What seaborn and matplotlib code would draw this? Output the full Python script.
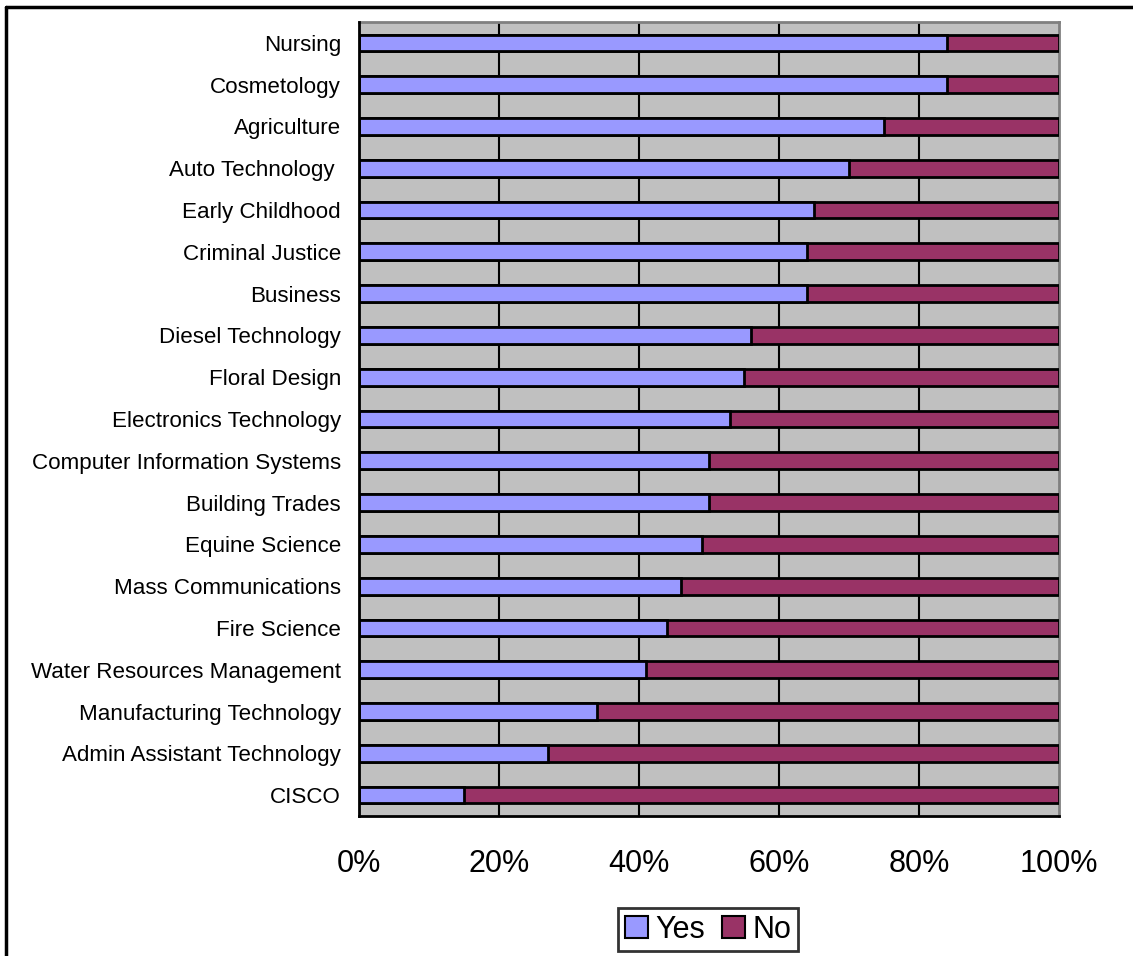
import seaborn as sns
import matplotlib.pyplot as plt
import pandas as pd
from matplotlib.lines import Line2D
from matplotlib.patches import Patch

programs = ['Nursing', 'Cosmetology', 'Agriculture', 'Auto Technology ',
            'Early Childhood', 'Criminal Justice', 'Business', 'Diesel Technology',
            'Floral Design', 'Electronics Technology', 'Computer Information Systems',
            'Building Trades', 'Equine Science', 'Mass Communications', 'Fire Science',
            'Water Resources Management', 'Manufacturing Technology',
            'Admin Assistant Technology', 'CISCO']
yes_pct = [84, 84, 75, 70, 65, 64, 64, 56, 55, 53, 50, 50, 49, 46, 44, 41, 34, 27, 15]
no_pct = [100 - v for v in yes_pct]
x_ticks = [0, 20, 40, 60, 80, 100]
x_labels = ['0%', '20%', '40%', '60%', '80%', '100%']

yes_col = '#9999FF'
no_col = '#993366'

df = pd.DataFrame({'program': programs, 'Yes': yes_pct, 'No': no_pct})
df['total'] = df['Yes'] + df['No']

sns.set_style('white')
plt.rcParams['font.family'] = ['Liberation Sans', 'DejaVu Sans']
plt.rcParams['text.color'] = 'black'
plt.rcParams['xtick.color'] = 'black'
plt.rcParams['ytick.color'] = 'black'
plt.rcParams['xtick.labelcolor'] = 'black'
plt.rcParams['ytick.labelcolor'] = 'black'

fig = plt.figure(figsize=(11.33, 9.56), dpi=100)
ax = fig.add_axes([359/1133, 1-816/956, 700/1133, 794/956])
ax.set_facecolor('#C0C0C0')

sns.barplot(data=df, x='total', y='program', orient='h', color=no_col,
            width=0.4, edgecolor='black', linewidth=2, saturation=1, ax=ax, zorder=3)
sns.barplot(data=df, x='Yes', y='program', orient='h', color=yes_col,
            width=0.4, edgecolor='black', linewidth=2, saturation=1, ax=ax, zorder=4)

ax.set_xlim(0, 100)
ax.set_ylim(len(programs) - 0.5, -0.5)
ax.set_xlabel('')
ax.set_ylabel('')

ax.set_xticks(x_ticks)
ax.set_xticklabels(x_labels, fontsize=22)
ax.tick_params(axis='x', direction='out', length=8, width=2, color='black', pad=16)

ax.set_yticks(range(len(programs)))
ax.set_yticklabels(programs, fontsize=16.1)
ax.tick_params(axis='y', which='major', length=0, pad=13)
ax.set_yticks([i - 0.5 for i in range(len(programs) + 1)], minor=True)
ax.tick_params(axis='y', which='minor', direction='out', length=5, width=2, color='black')

ax.set_axisbelow(True)
for v in x_ticks[1:-1]:
    ax.axvline(v, color='black', lw=1.5, zorder=1)

for s in ['left', 'bottom']:
    ax.spines[s].set_color('black')
    ax.spines[s].set_linewidth(2)
    ax.spines[s].set_zorder(5)
for s in ['top', 'right']:
    ax.spines[s].set_color('#808080')
    ax.spines[s].set_linewidth(2)
    ax.spines[s].set_visible(True)

handles = [Patch(facecolor=yes_col, edgecolor='black', lw=1.5, label='Yes'),
           Patch(facecolor=no_col, edgecolor='black', lw=1.5, label='No')]
leg = fig.legend(handles=handles, loc='upper center', bbox_to_anchor=(708/1133, 1-908/956),
                 ncol=2, fontsize=22, frameon=True, fancybox=False, handlelength=0.75,
                 handleheight=0.75, handletextpad=0.25, columnspacing=0.55,
                 borderpad=0.22, borderaxespad=0)
leg.get_frame().set_edgecolor('black')
leg.get_frame().set_linewidth(2)

# outer chart border (only top and left are visible in the crop)
fig.add_artist(Line2D([6/1133, 1], [1-7/956, 1-7/956], color='black', lw=2.5,
                      transform=fig.transFigure))
fig.add_artist(Line2D([6/1133, 6/1133], [0, 1-7/956], color='black', lw=2.5,
                      transform=fig.transFigure))

fig.savefig('out.png', dpi=100)
